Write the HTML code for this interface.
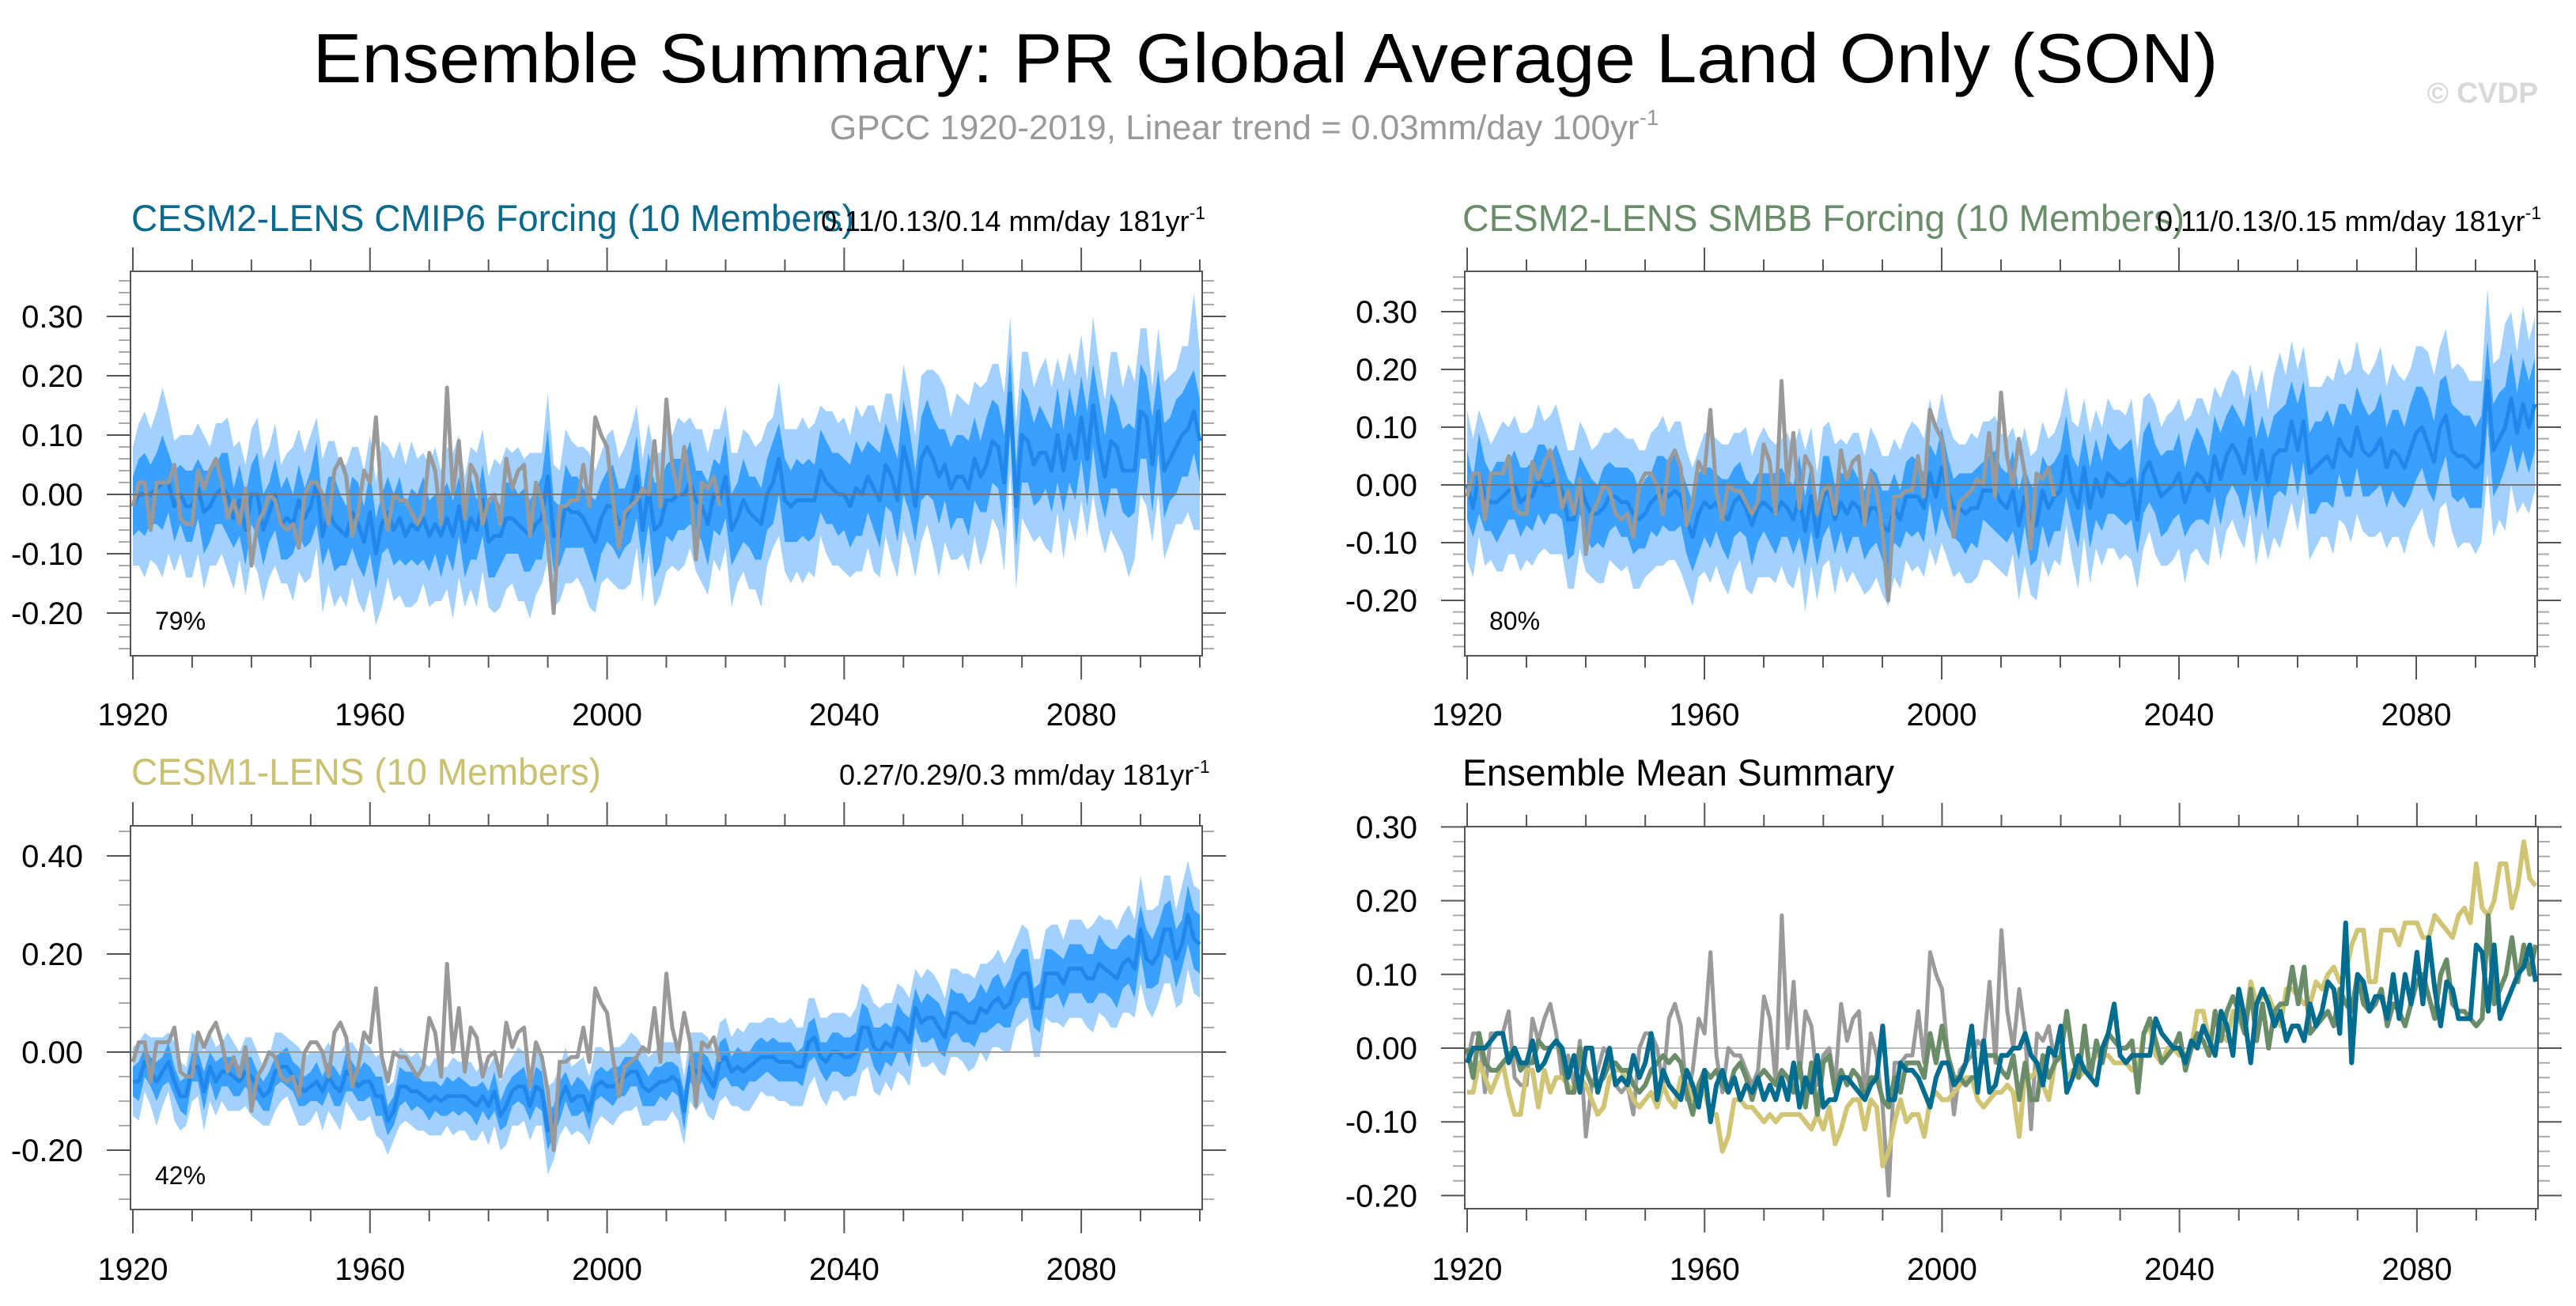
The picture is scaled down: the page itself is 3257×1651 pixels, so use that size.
<!DOCTYPE html>
<html><head><meta charset="utf-8"><title>Ensemble Summary: PR Global Average Land Only (SON)</title>
<style>html,body{margin:0;padding:0;background:#fff}svg{display:block}text{font-family:"Liberation Sans",sans-serif}</style>
</head><body>
<svg id="chart" xmlns="http://www.w3.org/2000/svg" width="3257" height="1651" viewBox="0 0 3257 1651">
<text x="1600" y="104" font-size="88" text-anchor="middle" textLength="2409" lengthAdjust="spacingAndGlyphs" fill="#000">Ensemble Summary: PR Global Average Land Only (SON)</text>
<text x="1049" y="176" font-size="44" fill="#999">GPCC 1920-2019, Linear trend = 0.03mm/day 100yr<tspan font-size="28" dy="-18">-1</tspan></text>
<text x="3209" y="130" font-size="37" font-weight="bold" text-anchor="end" fill="#d8d8d8">© CVDP</text>

<text x="166" y="292" font-size="47" fill="#0a6a8e" textLength="914" lengthAdjust="spacingAndGlyphs">CESM2-LENS CMIP6 Forcing (10 Members)</text>
<text x="1038" y="292" font-size="36" fill="#000">0.11/0.13/0.14 mm/day 181yr<tspan font-size="23" dy="-15">-1</tspan></text>
<text x="1849" y="292" font-size="47" fill="#6a8d69" textLength="913" lengthAdjust="spacingAndGlyphs">CESM2-LENS SMBB Forcing (10 Members)</text>
<text x="2727" y="292" font-size="36" fill="#000">0.11/0.13/0.15 mm/day 181yr<tspan font-size="23" dy="-15">-1</tspan></text>
<text x="166" y="992" font-size="47" fill="#c9c070" textLength="594" lengthAdjust="spacingAndGlyphs">CESM1-LENS (10 Members)</text>
<text x="1061" y="992" font-size="36" fill="#000">0.27/0.29/0.3 mm/day 181yr<tspan font-size="23" dy="-15">-1</tspan></text>
<text x="1849" y="993" font-size="47" fill="#000" textLength="546" lengthAdjust="spacingAndGlyphs">Ensemble Mean Summary</text>
</svg>
<script>
// values in hundredths of mm/day
const obsGPCC = [-2,2,2,-6,2,2,2,5,-4,-5,-5,4,1,4,6,2,-4,-1,-5,1,
-12,-5,-3,0,-1,-5,-6,-5,-9,0,2,2,0,-5,4,6,3,-7,-3,4,
2,13,-1,-6,0,-1,-1,-3,-5,-3,7,4,-5,18,0,9,-4,5,3,-5,
-1,0,-5,6,1,4,5,-7,2,-1,-8,-20,-2,-2,-1,-1,5,-2,13,10,
8,-1,-9,-3,-2,-1,1,0,9,-2,16,5,0,8,2,-11,2,1,3,-2];
const meanCMIP6 = [-2,0,0,0,1,2,2,-2,0,-2,-2,1,-3,-2,0,1,0,-4,-1,-6,
0,0,-6,-3,0,-5,-4,-5,-1,-4,-2,2,-7,-3,-5,-6,-7,-3,-5,-8,
-3,-10,-5,-3,-6,-4,-7,-5,-6,-4,-7,-5,-7,-4,-7,-2,-8,-4,-6,-1,
-8,-7,-7,-4,-4,-5,-6,-7,-5,-4,3,-7,-7,-2,-3,-3,-4,-6,-8,-4,
-2,-2,-5,-4,-2,3,-6,1,-6,-5,-1,-1,0,0,2,-1,-2,-5,0,-1,
3,-6,-4,-1,-3,-4,-5,0,2,6,-1,-2,-1,-1,-1,-1,4,2,1,0,
0,-2,1,0,3,1,-1,5,3,-1,8,4,-2,6,8,6,3,5,1,3,
3,1,6,3,5,9,8,2,17,-2,10,9,5,7,7,4,10,4,10,6,
13,6,15,8,3,9,8,4,4,4,14,13,5,14,4,6,8,10,11,14,9];
const meanSMBB = [0,-4,2,-2,-3,-3,-2,-1,0,-3,-2,-2,1,0,0,1,-1,-6,-6,0,
-3,-5,-5,-4,-2,-2,-3,-3,-5,-6,-5,-3,-2,-1,-2,-1,-2,-6,-9,-5,
-3,-4,-3,-5,-6,-3,-2,-4,-7,-4,-3,-4,-5,-3,-4,-6,-2,-8,-2,-9,
-2,-1,-6,-3,-5,-3,-4,-7,-4,-4,-7,-8,-4,-6,-2,-2,-2,-4,2,-2,
3,-1,-4,-4,-5,-4,-4,-1,-1,-1,-3,-4,-1,-7,-2,-7,-7,-1,-4,-2,
-1,5,-1,-4,3,-4,1,-2,2,1,0,0,1,-6,2,4,1,-2,-1,0,
2,-3,0,2,1,-1,5,1,5,7,5,2,8,1,6,0,5,6,6,11,
6,11,2,3,4,5,3,8,6,5,10,6,5,6,8,3,6,5,3,6,
9,10,7,4,10,12,6,5,5,4,3,4,18,6,8,10,15,9,14,10,14];
const meanCESM1 = [-6,-6,-2,-4,-6,-4,-2,-6,-9,-9,-3,-3,-8,-3,-6,-4,-4,-5,-6,-4,
-5,-7,-9,-8,-4,-3,-3,-5,-7,-8,-7,-6,-8,-5,-7,-8,-4,-5,-7,-6,
-6,-9,-9,-14,-12,-7,-7,-8,-8,-9,-10,-9,-10,-9,-9,-9,-9,-10,-11,-9,
-11,-8,-13,-11,-8,-7,-7,-11,-7,-8,-16,-14,-10,-7,-10,-9,-9,-12,-7,-6,
-7,-7,-6,-5,-4,-4,-7,-8,-7,-6,-6,-5,-6,-12,-3,-4,-3,-5,-7,-2,
-1,-4,-3,-4,-3,-2,-1,-1,-1,-2,-2,-2,-3,-3,2,3,-1,-2,0,0,
-1,-1,0,5,5,1,0,2,1,5,4,2,9,6,7,7,5,3,8,8,
7,6,6,9,8,10,11,9,10,14,16,16,9,9,16,16,16,14,17,17,
17,15,15,18,17,16,15,18,19,17,25,19,18,20,25,25,19,22,28,23,22];
// band half-widths (hundredths)
const p1Dark = [5,6,7,5,6,8,5,6,5,6, 6,5,7,6,5,6,7,5,6,6, 5,7,6,5,6,6,7,5,6,5, 6,7,5,6,8,6,5,6,7,6,
7,6,5,6,6,7,5,6,6,7, 6,5,7,6,6,5,6,7,5,6, 6,7,5,6,6,5,7,6,6,7, 8,6,5,7,6,6,5,6,7,6,
6,7,6,5,6,7,6,6,8,7, 6,7,6,6,7,5,6,7,6,6, 7,6,6,7,6,7,6,6,7,6, 7,6,7,6,7,6,7,7,6,7,
6,7,8,7,6,7,8,7,6,7, 8,7,6,7,8,7,8,6,7,7, 7,8,7,6,8,7,7,8,7,7, 8,7,7,8,6,7,8,7,8,7,
7,8,7,8,7,8,7,7,8,7, 8,7,8,7,8,7,8,7,8,7, 7];
const p1Light = [10,12,14,11,13,16,12,11,10,12, 12,11,13,10,12,11,13,12,10,11, 11,13,12,11,12,10,11,13,12,11, 12,11,13,12,14,11,12,11,13,12,
13,12,14,11,12,13,12,14,12,11, 12,13,11,12,14,12,11,12,13,12, 11,13,12,12,11,13,12,14,12,11, 14,12,11,13,12,11,12,13,12,11,
12,13,11,12,13,12,12,11,13,12, 12,11,13,12,11,12,13,12,11,12, 12,13,11,12,13,12,14,12,11,13, 12,13,12,14,12,13,11,12,13,12,
13,12,14,13,12,14,13,12,14,13, 14,13,12,14,13,15,17,13,12,14, 13,14,13,15,14,13,14,15,13,14, 14,15,13,14,16,14,13,15,14,14,
14,13,15,14,13,15,16,14,18,15, 14,15,13,14,15,14,13,15,14,20, 15];
const p2Dark = [6,5,7,6,5,7,6,5,6,6, 5,6,6,7,5,6,5,7,6,5, 6,6,5,7,6,5,6,6,7,5, 6,5,7,6,6,7,5,6,6,7,
6,7,5,6,7,6,6,5,7,6, 5,6,7,6,5,6,7,6,6,5, 7,6,6,5,7,6,5,6,7,6, 6,7,6,5,6,7,6,6,5,7,
7,6,5,6,7,6,7,5,6,7, 6,6,7,6,5,7,6,6,7,6, 7,7,6,7,6,7,7,6,7,6, 6,7,7,6,7,7,6,7,7,6,
7,6,7,8,7,6,7,8,7,7, 7,8,8,7,6,8,7,7,8,7, 8,7,7,8,7,8,7,6,8,7, 7,8,7,7,8,7,7,8,7,8,
8,7,8,7,8,7,8,8,7,8, 7,8,7,8,8,7,8,7,8,8, 8];
const p2Light = [13,12,11,12,10,12,13,11,12,12, 11,12,13,11,12,13,11,12,12,11, 12,11,12,13,11,12,12,11,13,12, 11,12,12,13,11,12,13,12,12,11,
12,13,11,12,13,12,11,14,12,12, 13,12,12,11,13,12,12,14,12,11, 12,12,13,11,12,12,13,12,14,12, 12,13,12,12,11,13,12,12,13,12,
13,12,12,11,12,13,12,12,12,13, 12,12,11,13,12,12,13,12,12,11, 13,12,12,14,12,13,12,12,13,12, 13,12,14,12,13,12,13,12,13,13,
13,14,12,13,14,13,12,14,13,13, 14,13,13,15,14,13,14,17,13,14, 14,13,15,14,13,14,15,14,13,15, 15,14,14,15,16,14,15,14,15,14,
15,14,16,15,14,15,14,16,15,14, 15,14,16,15,14,18,15,14,17,15, 15];
const p3Dark = [3,4,3,3,4,3,4,3,3,4, 3,3,4,3,4,3,3,4,3,3, 4,3,3,4,3,3,4,3,4,3, 3,4,3,3,4,3,4,3,3,4,
3,4,4,3,3,4,3,4,3,3, 4,3,3,4,3,4,3,3,4,3, 3,4,3,4,3,3,4,3,4,4, 4,3,4,3,3,4,3,4,3,3,
3,4,3,4,3,3,4,3,4,3, 4,3,3,4,3,4,3,4,3,4, 4,3,4,4,3,4,4,3,4,4, 4,4,3,4,4,4,3,4,4,4,
4,4,4,5,4,4,5,4,4,5, 4,5,4,4,5,4,5,4,5,4, 5,4,5,5,4,5,5,4,5,5, 5,5,4,5,5,5,4,5,5,5,
5,5,5,6,5,5,6,5,5,6, 5,6,5,6,5,6,6,5,6,6, 6];
const p3Light = [7,8,6,7,9,7,6,8,7,6, 7,6,8,7,7,6,8,7,6,7, 8,7,6,7,8,7,6,7,8,7, 7,6,8,7,7,8,6,7,7,8,
7,8,9,7,6,8,7,7,8,7, 7,8,7,6,8,7,7,8,7,7, 8,7,7,8,7,8,7,7,8,7, 9,8,7,8,7,7,8,7,8,7,
7,8,7,7,8,7,8,7,7,8, 8,7,8,7,7,8,7,8,7,8, 8,7,8,8,9,8,7,8,8,8, 8,9,8,8,9,8,8,9,8,8,
9,8,9,9,8,9,9,8,9,9, 9,9,8,9,10,9,9,8,9,9, 9,10,9,9,10,9,10,9,10,9, 10,9,10,10,9,10,10,9,10,10,
10,10,11,10,10,11,10,10,11,10, 11,10,11,10,11,11,10,12,11,11, 11];
const yearStart = 1920;
const yearTicks = [1920,1930,1940,1950,1960,1970,1980,1990,2000,2010,2020,2030,2040,2050,2060,2070,2080,2090,2100];
const yearLabels = [1920,1960,2000,2040,2080];
const p1YTicks = [-0.2,-0.1,0,0.1,0.2,0.3];
const p3YTicks = [-0.2,0,0.2,0.4];
const p4YTicks = [-0.2,-0.1,0,0.1,0.2,0.3];

const NS = 'http://www.w3.org/2000/svg';
const svg = document.getElementById('chart');
function mk(tag, attrs, parent) {
  const e = document.createElementNS(NS, tag);
  for (const k in attrs) e.setAttribute(k, attrs[k]);
  (parent || svg).appendChild(e);
  return e;
}
function makePanel(c) {
  const g = mk('g', {});
  
  
  c.xs = yr => c.yr0x + (yr - 1920) * (c.yr1x - c.yr0x) / 180;
  c.ys = v => c.zero - v * c.ppu;
  const clipId = c.name + '-clip';
  const cp = mk('clipPath', {id: clipId}, g);
  mk('rect', {x: c.bx0, y: c.by0, width: c.bx1 - c.bx0, height: c.by1 - c.by0}, cp);
  c.plot = mk('g', {'clip-path': 'url(#' + clipId + ')'}, g);
  
  
  c.g = g;
  return c;
}
function drawAxes(c, majors, minorStep) {
  const g = c.g;
  const zl = mk('line', {x1: c.bx0, x2: c.bx1, y1: c.ys(0), y2: c.ys(0), stroke: c.zeroColor, 'stroke-width': 2}, c.plot);
  
  
  const vmax = (c.zero - c.by0) / c.ppu, vmin = (c.zero - c.by1) / c.ppu;
  const n0 = Math.ceil(vmin / minorStep - 1e-6), n1 = Math.floor(vmax / minorStep + 1e-6);
  for (let n = n0; n <= n1; n++) {
    const v = n * minorStep;
    if (majors.some(m => Math.abs(m - v) < 1e-6)) continue;
    const y = c.ys(v);
    const t1 = mk('line', {x1: c.bx0 - 15, x2: c.bx0, y1: y, y2: y, stroke: '#aaa', 'stroke-width': 2}, g);
    
    
    const t2 = mk('line', {x1: c.bx1, x2: c.bx1 + 15, y1: y, y2: y, stroke: '#aaa', 'stroke-width': 2}, g);
    
    
  }
  majors.forEach(v => {
    const y = c.ys(v);
    const t1 = mk('line', {x1: c.bx0 - 30, x2: c.bx0, y1: y, y2: y, stroke: '#555', 'stroke-width': 2}, g);
    
    
    const t2 = mk('line', {x1: c.bx1, x2: c.bx1 + 30, y1: y, y2: y, stroke: '#555', 'stroke-width': 2}, g);
    
    
    const tx = mk('text', {x: c.bx0 - 60, y: y + 14, 'font-size': 40, 'text-anchor': 'end', fill: '#000'}, g);
    
    
    tx.textContent = (Math.abs(v) < 1e-9 ? 0 : v).toFixed(2);
  });
  yearTicks.forEach(yr => {
    const x = c.xs(yr);
    const major = (yr - 1920) % 40 === 0;
    const L = major ? 30 : 15;
    const a = mk('line', {x1: x, x2: x, y1: c.by0 - L, y2: c.by0, stroke: '#555', 'stroke-width': 2}, g);
    
    
    const b = mk('line', {x1: x, x2: x, y1: c.by1, y2: c.by1 + L, stroke: '#555', 'stroke-width': 2}, g);
    
    
  });
  yearLabels.forEach(yr => {
    const tx = mk('text', {x: c.xs(yr), y: c.xLabelY, 'font-size': 40, 'text-anchor': 'middle', fill: '#000'}, g);
    
    
    tx.textContent = yr;
  });
  const box = mk('rect', {x: c.bx0, y: c.by0, width: c.bx1 - c.bx0, height: c.by1 - c.by0, fill: 'none', stroke: '#555', 'stroke-width': 2}, g);
  
  
}
function linePath(c, arr, color, w, name) {
  const d = arr.map((v, i) => (i ? 'L' : 'M') + c.xs(yearStart + i).toFixed(1) + ',' + c.ys(v / 100).toFixed(1)).join('');
  const p = mk('path', {d: d, fill: 'none', stroke: color, 'stroke-width': w, 'stroke-linejoin': 'round'}, c.plot);
  
  
}
function band(c, mean, half, color, name) {
  const up = mean.map((v, i) => c.xs(yearStart + i).toFixed(1) + ',' + c.ys((v + half[i]) / 100).toFixed(1));
  const dn = mean.map((v, i) => c.xs(yearStart + i).toFixed(1) + ',' + c.ys((v - half[i]) / 100).toFixed(1)).reverse();
  const p = mk('polygon', {points: up.concat(dn).join(' '), fill: color}, c.plot);
  
  
}
function ensemblePanel(c, mean, lightHalf, darkHalf, majors, minorStep, pct, pctY) {
  makePanel(c);
  band(c, mean, lightHalf, '#a3d1ff', 'ensemble-range-band');
  band(c, mean, darkHalf, '#39a0ff', 'ensemble-10-90-band');
  linePath(c, mean, '#1f88e8', 5, 'ensemble-mean-line');
  linePath(c, obsGPCC, '#999999', 5, 'gpcc-observed-line');
  drawAxes(c, majors, minorStep);
  const t = mk('text', {x: c.bx0 + 31, y: pctY, 'font-size': 32, fill: '#000'}, c.g);
  
  
  t.textContent = pct;
}
ensemblePanel({name: 'panel-cesm2-cmip6', bx0: 165, bx1: 1520, by0: 343, by1: 829, yr0x: 168, yr1x: 1517, zero: 625, ppu: 750, xLabelY: 917, zeroColor: '#777'},
  meanCMIP6, p1Light, p1Dark, p1YTicks, 0.02, '79%', 796);
ensemblePanel({name: 'panel-cesm2-smbb', bx0: 1852, bx1: 3208, by0: 343, by1: 829, yr0x: 1855, yr1x: 3205, zero: 613, ppu: 730, xLabelY: 917, zeroColor: '#777'},
  meanSMBB, p2Light, p2Dark, p1YTicks, 0.02, '80%', 796);
ensemblePanel({name: 'panel-cesm1-lens', bx0: 165, bx1: 1520, by0: 1044, by1: 1529, yr0x: 168, yr1x: 1517, zero: 1330, ppu: 620, xLabelY: 1618, zeroColor: '#999'},
  meanCESM1, p3Light, p3Dark, p3YTicks, 0.05, '42%', 1497);
const p4 = makePanel({name: 'panel-ensemble-mean-summary', bx0: 1852, bx1: 3209, by0: 1045, by1: 1528, yr0x: 1855, yr1x: 3206, zero: 1325, ppu: 932, xLabelY: 1618, zeroColor: '#bbb'});
drawAxes(p4, p4YTicks, 0.02);
linePath(p4, obsGPCC, '#9a9a9a', 5, 'gpcc-observed-line');
linePath(p4, meanCESM1, '#cfc574', 6, 'cesm1-lens-mean-line');
linePath(p4, meanSMBB, '#6b8c68', 6, 'cesm2-smbb-mean-line');
linePath(p4, meanCMIP6, '#006c8f', 6, 'cesm2-cmip6-mean-line');
</script>
</body></html>
